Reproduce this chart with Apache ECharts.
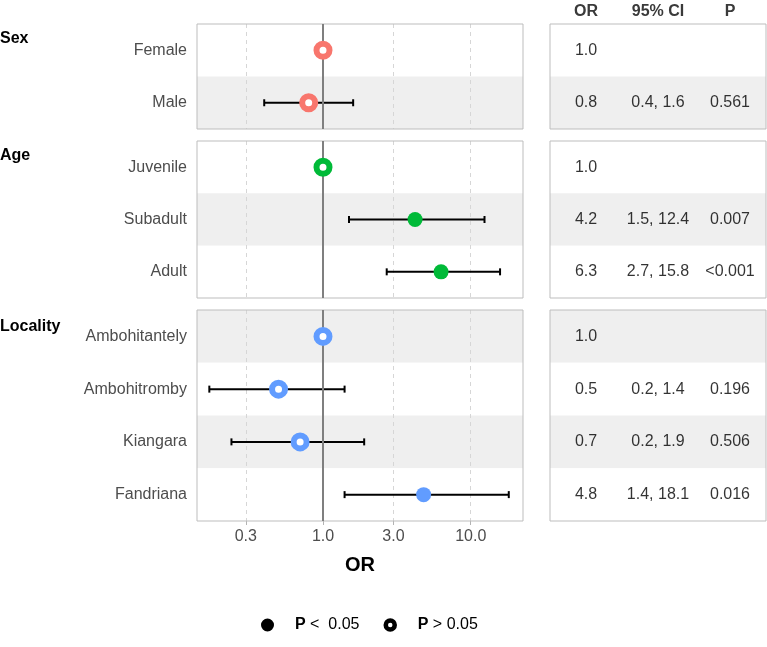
<!DOCTYPE html>
<html><head><meta charset="utf-8">
<script src="https://cdn.jsdelivr.net/npm/echarts@6/dist/echarts.min.js"></script>
<style>html,body{margin:0;padding:0;background:#fff}#chart{width:767px;height:647px}</style>
</head><body><div id="chart"></div>
<script>
// ---------- data ----------
const sexCats = ['Female', 'Male'];
const sexOR = [1.0, 0.8];
const sexLow = [null, 0.4];
const sexHigh = [null, 1.6];
const sexP = ['', '0.561'];

const ageCats = ['Juvenile', 'Subadult', 'Adult'];
const ageOR = [1.0, 4.2, 6.3];
const ageLow = [null, 1.5, 2.7];
const ageHigh = [null, 12.4, 15.8];
const ageP = ['', '0.007', '<0.001'];

const locCats = ['Ambohitantely', 'Ambohitromby', 'Kiangara', 'Fandriana'];
const locOR = [1.0, 0.5, 0.7, 4.8];
const locLow = [null, 0.17, 0.24, 1.4];
const locHigh = [null, 1.4, 1.9, 18.1];
const locP = ['', '0.196', '0.506', '0.016'];

const tableCols = ['OR', '95% CI', 'P'];
const tickValues = [0.3, 1, 3, 10];
const tickLabels = ['0.3', '1.0', '3.0', '10.0'];
const legendNames = ['P < 0.05', 'P > 0.05'];

// ---------- layout / style ----------
const FONT = '"Liberation Sans", Arial, Helvetica, sans-serif';
const LEFT = 197, WIDTH = 326, TLEFT = 550, TWIDTH = 216;
const XMIN = -0.853, XMAX = 1.354;
const panels = [
  {name: 'Sex', cats: sexCats, or: sexOR, lo: sexLow, hi: sexHigh, p: sexP, color: '#F8766D', top: 24, height: 105, shade: ['#ffffff', '#efefef'], titleTop: 31},
  {name: 'Age', cats: ageCats, or: ageOR, lo: ageLow, hi: ageHigh, p: ageP, color: '#00BA38', top: 141, height: 157, shade: ['#ffffff', '#efefef'], titleTop: 148},
  {name: 'Locality', cats: locCats, or: locOR, lo: locLow, hi: locHigh, p: locP, color: '#619CFF', top: 310, height: 211, shade: ['#efefef', '#ffffff'], titleTop: 319}
];
const isSig = t => t !== '' && (t.charAt(0) === '<' || parseFloat(t) < 0.05);
const logTicks = tickValues.map(v => Math.log10(v));

const grids = [], xAxes = [], yAxes = [], series = [], titles = [];
panels.forEach((pn, k) => {
  const last = k === panels.length - 1;
  grids.push({left: LEFT, top: pn.top, width: WIDTH, height: pn.height, show: true, z: 2,
    borderColor: '#bdbdbd', borderWidth: 1, backgroundColor: 'transparent', containLabel: false, outerBoundsMode: 'none'});
  xAxes.push({type: 'value', gridIndex: k, min: XMIN, max: XMAX, z: 1,
    axisLine: {show: false},
    axisTick: {show: last, customValues: logTicks, length: 4, lineStyle: {color: '#b3b3b3'}},
    axisLabel: {show: last, customValues: logTicks, margin: 8, fontSize: 16, color: '#4d4d4d', fontFamily: FONT,
      formatter: v => { const i = logTicks.findIndex(t => Math.abs(t - v) < 1e-6); return i >= 0 ? tickLabels[i] : ''; }},
    splitLine: {show: true, lineStyle: {color: '#d6d6d6', type: [4, 4], width: 1}},
    name: last ? 'OR' : '', nameLocation: 'middle', nameGap: 34,
    nameTextStyle: {fontSize: 20, fontWeight: 'bold', color: '#000', fontFamily: FONT}
  });
  yAxes.push({type: 'category', gridIndex: k, data: pn.cats, inverse: true, z: 0,
    axisLine: {show: false}, axisTick: {show: false},
    axisLabel: {fontSize: 16, color: '#4d4d4d', margin: 10, fontFamily: FONT},
    splitLine: {show: false},
    splitArea: {show: true, interval: 0, areaStyle: {color: pn.shade}}
  });
  titles.push({text: pn.name, left: 0, top: pn.titleTop, padding: 0,
    textStyle: {fontSize: 16, fontWeight: 'bold', color: '#000', fontFamily: FONT}});

  // vertical reference line at OR = 1
  series.push({type: 'line', xAxisIndex: k, yAxisIndex: k, data: [], z: 3, silent: true,
    markLine: {silent: true, symbol: ['none', 'none'], animation: false, label: {show: false},
      lineStyle: {color: '#7f7f7f', width: 2, type: 'solid'},
      emphasis: {disabled: true},
      data: [{xAxis: 0}]}});

  // error bars
  const ebData = [];
  pn.cats.forEach((c, i) => {
    if (pn.lo[i] != null) ebData.push([Math.log10(pn.lo[i]), Math.log10(pn.hi[i]), i]);
  });
  series.push({type: 'custom', xAxisIndex: k, yAxisIndex: k, z: 4, silent: true, data: ebData,
    encode: {x: [0, 1], y: 2},
    renderItem: (params, api) => {
      const y = api.value(2);
      const a = api.coord([api.value(0), y]);
      const b = api.coord([api.value(1), y]);
      const h = 3.5;
      const st = {stroke: '#000', lineWidth: 2, fill: null};
      return {type: 'group', children: [
        {type: 'line', shape: {x1: a[0], y1: a[1], x2: b[0], y2: b[1]}, style: st},
        {type: 'line', shape: {x1: a[0], y1: a[1] - h, x2: a[0], y2: a[1] + h}, style: st},
        {type: 'line', shape: {x1: b[0], y1: b[1] - h, x2: b[0], y2: b[1] + h}, style: st}
      ]};
    }});

  // points
  const ptData = pn.cats.map((c, i) => {
    const sig = isSig(pn.p[i]);
    return sig
      ? {value: [Math.log10(pn.or[i]), i], symbolSize: 15, itemStyle: {color: pn.color, borderWidth: 0, opacity: 1}}
      : {value: [Math.log10(pn.or[i]), i], symbolSize: 13, itemStyle: {color: '#ffffff', borderColor: pn.color, borderWidth: 6, opacity: 1}};
  });
  series.push({type: 'scatter', xAxisIndex: k, yAxisIndex: k, z: 5, silent: true, symbol: 'circle',
    itemStyle: {opacity: 1}, data: ptData});
});

// table panels
panels.forEach((pn, k) => {
  const gi = panels.length + k;
  grids.push({left: TLEFT, top: pn.top, width: TWIDTH, height: pn.height, show: true, z: 2,
    borderColor: '#bdbdbd', borderWidth: 1, backgroundColor: 'transparent', containLabel: false, outerBoundsMode: 'none'});
  xAxes.push({type: 'category', gridIndex: gi, data: tableCols, position: 'top', z: 1,
    axisLine: {show: false}, axisTick: {show: false}, splitLine: {show: false},
    axisLabel: {show: k === 0, margin: 4, fontSize: 16, fontWeight: 'bold', color: '#3a3a3a', fontFamily: FONT}});
  yAxes.push({type: 'category', gridIndex: gi, data: pn.cats, inverse: true, z: 0,
    axisLine: {show: false}, axisTick: {show: false}, axisLabel: {show: false},
    splitLine: {show: false},
    splitArea: {show: true, interval: 0, areaStyle: {color: pn.shade}}});
  const tData = [];
  pn.cats.forEach((c, i) => {
    const ci = pn.lo[i] != null ? pn.lo[i].toFixed(1) + ', ' + pn.hi[i].toFixed(1) : '';
    tData.push({name: pn.or[i].toFixed(1), value: [0, i]});
    tData.push({name: ci, value: [1, i]});
    tData.push({name: pn.p[i], value: [2, i]});
  });
  series.push({type: 'scatter', xAxisIndex: gi, yAxisIndex: gi, z: 5, silent: true, symbolSize: 1,
    itemStyle: {color: 'rgba(0,0,0,0)'}, data: tData,
    label: {show: true, position: 'inside', formatter: p => p.name, fontSize: 16, color: '#000', fontFamily: FONT}});
});

// legend dummy series
series.push({type: 'scatter', name: legendNames[0], data: [], xAxisIndex: 0, yAxisIndex: 0, itemStyle: {color: '#000', opacity: 1}});
series.push({type: 'scatter', name: legendNames[1], data: [], xAxisIndex: 0, yAxisIndex: 0, itemStyle: {color: '#000', opacity: 1}});

const option = {
  animation: false,
  backgroundColor: '#ffffff',
  title: titles,
  grid: grids,
  xAxis: xAxes,
  yAxis: yAxes,
  legend: {
    left: 256, top: 612, orient: 'horizontal', selectedMode: false,
    itemWidth: 9, itemHeight: 9, itemGap: 24,
    data: [
      {name: legendNames[0], icon: 'circle', itemStyle: {color: '#000', borderColor: '#000', borderWidth: 4, opacity: 1}},
      {name: legendNames[1], icon: 'circle', itemStyle: {color: '#fff', borderColor: '#000', borderWidth: 4.5, opacity: 1}}
    ],
    formatter: name => name === legendNames[0] ? '{b|P} <  0.05' : '{b|P} > 0.05',
    textStyle: {fontSize: 16, color: '#000', fontFamily: FONT, padding: [0, 0, 0, 18],
      rich: {b: {fontSize: 16, fontWeight: 'bold', color: '#000', fontFamily: FONT}}}
  },
  series: series
};

const chart = echarts.init(document.getElementById('chart'), null, {renderer: 'canvas'});
chart.setOption(option);
</script>
</body></html>
